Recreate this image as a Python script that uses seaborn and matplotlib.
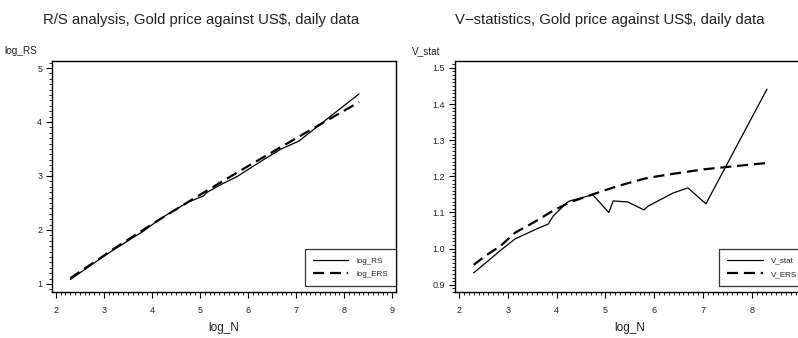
import numpy as np
import pandas as pd
import matplotlib
matplotlib.use("Agg")
import matplotlib.pyplot as plt
import seaborn as sns
from matplotlib.ticker import MultipleLocator, FixedLocator, FormatStrFormatter

# ---- data ----
log_N = [2.30, 2.56, 2.84, 3.15, 3.60, 3.83, 3.93, 4.21, 4.27, 4.74, 5.07,
         5.16, 5.46, 5.79, 5.88, 6.39, 6.69, 7.06, 8.31]
log_RS = [1.081, 1.241, 1.414, 1.602, 1.854, 1.981, 2.051, 2.225, 2.259, 2.509,
          2.630, 2.704, 2.851, 2.997, 3.052, 3.338, 3.500, 3.647, 4.520]
log_ERS = [1.104, 1.262, 1.426, 1.618, 1.875, 2.008, 2.065, 2.222, 2.255, 2.510,
           2.688, 2.736, 2.896, 3.072, 3.119, 3.383, 3.538, 3.729, 4.368]
V_stat = [0.933, 0.962, 0.994, 1.027, 1.055, 1.068, 1.090, 1.127, 1.132, 1.149,
          1.100, 1.132, 1.129, 1.107, 1.118, 1.154, 1.168, 1.124, 1.441]
V_ERS = [0.955, 0.982, 1.006, 1.044, 1.078, 1.097, 1.105, 1.124, 1.128, 1.150,
         1.165, 1.169, 1.181, 1.193, 1.196, 1.207, 1.213, 1.220, 1.237]

titles = ["R/S analysis, Gold price against US$, daily data",
          "V\u2212statistics, Gold price against US$, daily data"]
ylabels = ["log_RS", "V_stat"]
xlabel = "log_N"
x_ticks_left = [2, 3, 4, 5, 6, 7, 8, 9]
x_ticks_right = [2, 3, 4, 5, 6, 7, 8]

df = pd.DataFrame({"log_N": log_N, "log_RS": log_RS, "log_ERS": log_ERS,
                   "V_stat": V_stat, "V_ERS": V_ERS})

sns.set_theme(style="white")
plt.rcParams["font.family"] = ["Liberation Sans", "DejaVu Sans"]

W, H = 798, 338
fig = plt.figure(figsize=(W / 100, H / 100), dpi=100)

def frac(x0, x1, ytop, ybot):
    return [x0 / W, 1 - ybot / H, (x1 - x0) / W, (ybot - ytop) / H]

ax1 = fig.add_axes(frac(52, 396, 61, 292))
ax2 = fig.add_axes(frac(455, 805, 61, 292))

dash = (5, 2.6)

def draw(ax, ycol1, ycol2, ylab, xlim, ylim, xticks, ymajor, yminor):
    sns.lineplot(data=df, x="log_N", y=ycol1, ax=ax, color="black", lw=0.9,
                 estimator=None, sort=False, label=ycol1)
    sns.lineplot(data=df, x="log_N", y=ycol2, ax=ax, color="black", lw=1.6,
                 estimator=None, sort=False, label=ycol2)
    ax.lines[1].set_dashes(dash)
    ax.set_xlim(*xlim)
    ax.set_ylim(*ylim)
    ax.xaxis.set_major_locator(FixedLocator(xticks))
    ax.xaxis.set_minor_locator(MultipleLocator(0.1))
    ax.yaxis.set_major_locator(MultipleLocator(ymajor))
    ax.yaxis.set_minor_locator(MultipleLocator(yminor))
    ax.tick_params(which="major", direction="out", length=4, width=0.8,
                   color="black", labelsize=6.5, labelcolor="#222222",
                   bottom=True, left=True, pad=3)
    ax.tick_params(axis="x", which="major", pad=6)
    ax.tick_params(which="minor", direction="out", length=2, width=0.6,
                   color="black", bottom=True, left=True)
    for s in ax.spines.values():
        s.set_color("black")
        s.set_linewidth(1.0)
    ax.set_xlabel(xlabel, fontsize=8.5, labelpad=5, color="#222222")
    ax.set_ylabel("")
    ax.annotate(ylab, xy=(0, 1), xycoords="axes fraction",
                xytext=(-15, 10), textcoords="offset pixels",
                ha="right", va="center", fontsize=7.2, color="#222222")
    leg = ax.legend(loc="lower right", bbox_to_anchor=(1.0, 6 / 231),
                    borderaxespad=0, fontsize=5.8, handlelength=4.4,
                    handletextpad=1.0, labelspacing=0.7, borderpad=1.0,
                    fancybox=False, frameon=True)
    leg.get_frame().set_edgecolor("black")
    leg.get_frame().set_linewidth(0.9)
    leg.get_frame().set_facecolor("white")
    for t in leg.get_texts():
        t.set_color("#222222")

draw(ax1, "log_RS", "log_ERS", ylabels[0], (1.92, 9.08), (0.85, 5.13),
     x_ticks_left, 1, 0.1)
draw(ax2, "V_stat", "V_ERS", ylabels[1], (1.918, 9.09), (0.88, 1.519),
     x_ticks_right, 0.1, 0.01)

ax2.yaxis.set_major_formatter(FormatStrFormatter("%.1f"))

fig.text(201 / W, 1 - 20 / H, titles[0], ha="center", va="center",
         fontsize=10.7, color="#222222")
fig.text(610 / W, 1 - 20 / H, titles[1], ha="center", va="center",
         fontsize=10.7, color="#222222")

fig.savefig("out.png", dpi=100)
